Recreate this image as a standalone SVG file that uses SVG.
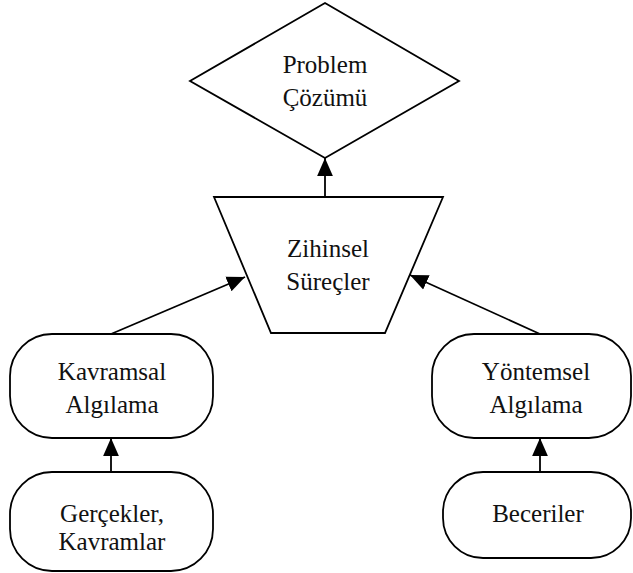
<svg xmlns="http://www.w3.org/2000/svg" width="633" height="573" viewBox="0 0 633 573">
<style>
.s{fill:#fff;stroke:#000;stroke-width:1.8}
.t{font-family:"Liberation Serif","Times New Roman",serif;font-size:25px;fill:#111;text-anchor:middle}
.c{stroke:#000;stroke-width:1.8;fill:none}
</style>
<defs>
<marker id="b" markerWidth="18" markerHeight="18" refX="16" refY="8" orient="auto" markerUnits="userSpaceOnUse" viewBox="0 0 16 16">
<path d="M0,1 L16,8 L0,15 Z" fill="#000"/>
</marker>
</defs>
<g id="problem"><polygon class="s" points="325,3 459,81 325,158 190,81"/><text class="t" x="325" y="73">Problem</text><text class="t" x="325" y="106">Çözümü</text></g>
<g id="zihinsel"><polygon class="s" points="214,197 443,197 385,333 271,333"/><text class="t" x="328" y="257">Zihinsel</text><text class="t" x="328" y="290">Süreçler</text></g>
<g id="kavramsal"><rect class="s" x="10" y="334" width="203" height="104" rx="42"/><text class="t" x="112" y="380">Kavramsal</text><text class="t" x="112" y="413">Algılama</text></g>
<g id="yontemsel"><rect class="s" x="432" y="334" width="199" height="104" rx="42"/><text class="t" x="536" y="380">Yöntemsel</text><text class="t" x="536" y="413">Algılama</text></g>
<g id="gercekler"><rect class="s" x="10" y="472" width="203" height="99" rx="42"/><text class="t" x="112" y="522">Gerçekler,</text><text class="t" x="112" y="550">Kavramlar</text></g>
<g id="beceriler"><rect class="s" x="443" y="472" width="188" height="86" rx="40"/><text class="t" x="538" y="522">Beceriler</text></g>
<g id="connectors">
<line class="c" x1="325" y1="197" x2="325" y2="158" marker-end="url(#b)"/>
<line class="c" x1="111" y1="334" x2="245" y2="277" marker-end="url(#b)"/>
<line class="c" x1="540" y1="334" x2="410" y2="275" marker-end="url(#b)"/>
<line class="c" x1="111" y1="472" x2="111" y2="438" marker-end="url(#b)"/>
<line class="c" x1="540" y1="472" x2="540" y2="438" marker-end="url(#b)"/>
</g>
</svg>
